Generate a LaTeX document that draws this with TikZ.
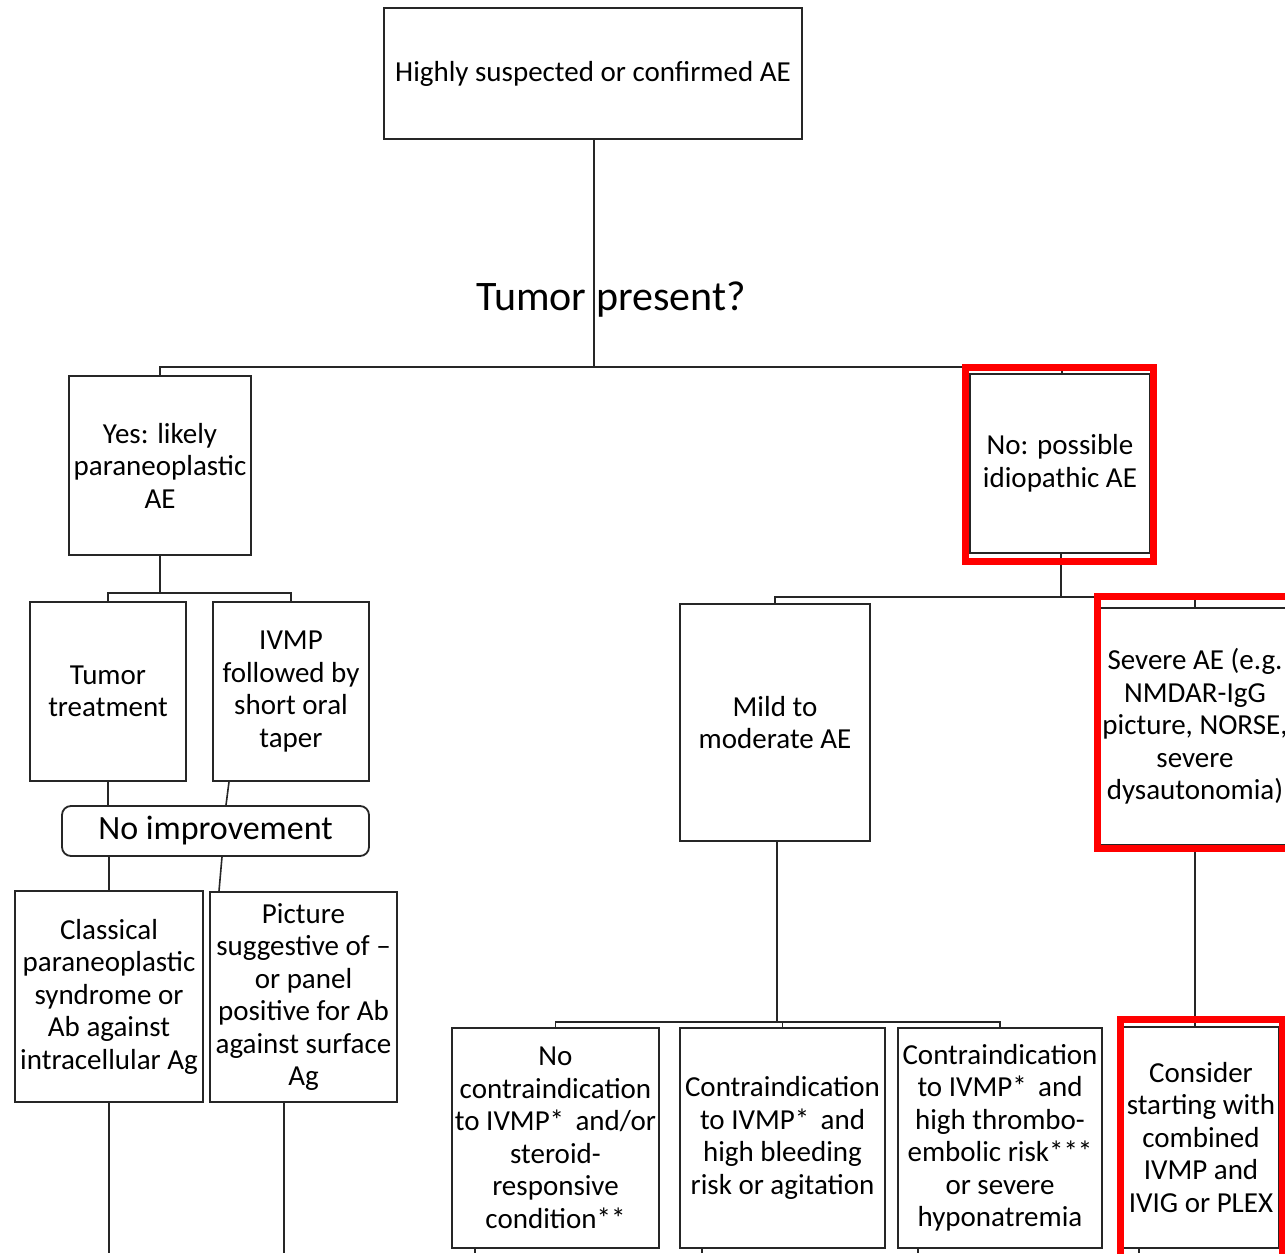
\documentclass[tikz,border=0pt]{standalone}
\usepackage{fontspec}
\setmainfont{Carlito}
\begin{document}
\begin{tikzpicture}[x=1pt,y=-1pt,
  box/.style={draw=black!85, line width=1.8pt, align=center, inner sep=0pt,
    font=\fontsize{29}{32.5}\selectfont},
  conn/.style={draw=black!85, line width=1.6pt},
  hilite/.style={draw=red, line width=7pt}]
\useasboundingbox[fill=white] (0,0) rectangle (1285,1253);
\clip (0,0) rectangle (1285,1253);
% boxes
\node[box, minimum width=418, minimum height=131] (top) at (593,73.5) {Highly suspected or confirmed AE};
\node[font=\fontsize{42}{46}\selectfont, inner sep=0pt] (q) at (611,300) {Tumor present?};
\node[box, minimum width=182, minimum height=179] (yes) at (160,465.5) {Yes: likely\\paraneoplastic\\AE};
\node[box, minimum width=180, minimum height=179] (no) at (1060,463.5) {No: possible\\idiopathic AE};
\node[box, minimum width=156, minimum height=179] (tt) at (108,691.5) {Tumor\\treatment};
\node[box, minimum width=156, minimum height=179] (ivmp) at (291,691.5) {IVMP\\followed by\\short oral\\taper};
\node[box, rounded corners=9pt, minimum width=307, minimum height=50, font=\fontsize{34}{38}\selectfont] (noimp) at (215.5,831) {No improvement};
\node[box, minimum width=188, minimum height=211] (cls) at (109,996.5) {Classical\\paraneoplastic\\syndrome or\\Ab against\\intracellular Ag};
\node[box, minimum width=187, minimum height=210] (pic) at (303.5,997) {Picture\\suggestive of –\\or panel\\positive for Ab\\against surface\\Ag};
\node[box, minimum width=190, minimum height=237] (mild) at (775,722.5) {Mild to\\moderate AE};
\node[box, minimum width=192, minimum height=237] (sev) at (1195,726.5) {Severe AE (e.g.\\NMDAR-IgG\\picture, NORSE,\\severe\\dysautonomia)};
\node[box, minimum width=207, minimum height=220] (b1) at (555.5,1138) {No\\contraindication\\to IVMP*\, and/or\\steroid-\\responsive\\condition**};
\node[box, minimum width=205, minimum height=220] (b2) at (782.5,1138) {Contraindication\\to IVMP*\, and\\high bleeding\\risk or agitation};
\node[box, minimum width=204, minimum height=220] (b3) at (1000,1138) {Contraindication\\to IVMP*\, and\\high thrombo-\\embolic risk***\\or severe\\hyponatremia};
\node[box, minimum width=156, minimum height=221] (cons) at (1201,1137.5) {Consider\\starting with\\combined\\IVMP and\\IVIG or PLEX};
% junctions
\coordinate (j1) at (594,367);
\coordinate (j2) at (160,593);
\coordinate (j3) at (1061,597);
\coordinate (j4) at (777,1022);
\coordinate (e1) at (108,1253);
\coordinate (e2) at (284,1253);
\coordinate (e3) at (475,1253);
\coordinate (e4) at (702,1253);
\coordinate (e5) at (918,1253);
\coordinate (e6) at (1139,1253);
% connectors
\draw[conn] (top.south -| j1) -- (j1);
\draw[conn] (j1) -| (yes.north);
\draw[conn] (j1) -| ([xshift=2pt]no.north);
\draw[conn] (yes.south) -- (j2);
\draw[conn] (j2) -| (tt.north);
\draw[conn] (j2) -| (ivmp.north);
\draw[conn] (tt.south) -- (tt.south |- noimp.north);
\draw[conn] ([xshift=-62pt]ivmp.south) -- ([xshift=10.5pt]noimp.north);
\draw[conn] (noimp.south -| cls.north) -- (cls.north);
\draw[conn] ([xshift=6.5pt]noimp.south) -- ([xshift=-84.5pt]pic.north);
\draw[conn] (cls.south) -- (cls.south |- e1);
\draw[conn] (pic.south -| e2) -- (e2);
\draw[conn] (no.south -| j3) -- (j3);
\draw[conn] (j3) -| (mild.north);
\draw[conn] (j3) -| (sev.north);
\draw[conn] (mild.south -| j4) -- (j4);
\draw[conn] (j4) -| (b1.north);
\draw[conn] (j4) -| (b2.north);
\draw[conn] (j4) -| (b3.north);
\draw[conn] (sev.south) -- (sev.south |- cons.north);
\draw[conn] (b1.south -| e3) -- (e3);
\draw[conn] (b2.south -| e4) -- (e4);
\draw[conn] (b3.south -| e5) -- (e5);
\draw[conn] (cons.south -| e6) -- (e6);
% highlight frames
\draw[hilite] (965,367) rectangle (1153,561);
\draw[hilite] (1097,596) rectangle (1300,848);
\draw[hilite] (1120,1019) rectangle (1282,1275);
\end{tikzpicture}
\end{document}
